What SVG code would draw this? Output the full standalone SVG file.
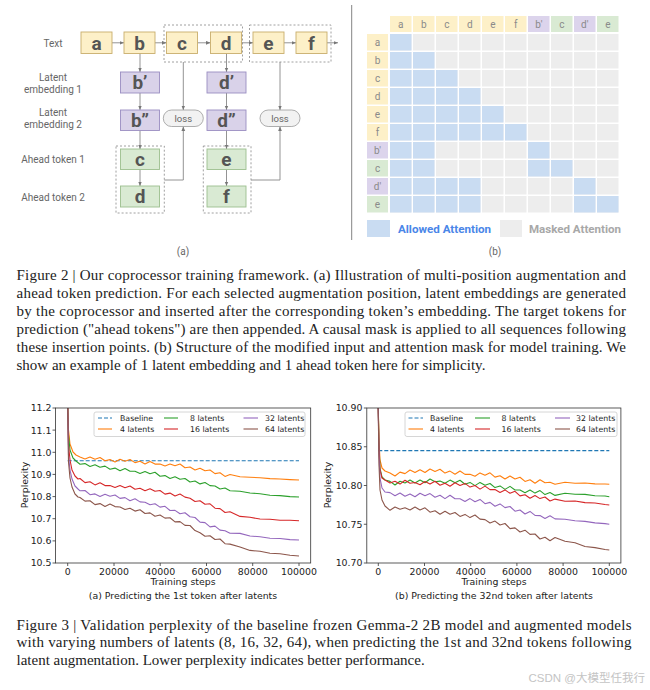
<svg xmlns="http://www.w3.org/2000/svg" width="650" height="690" viewBox="0 0 650 690">
<defs>
<style>
.lbl{font-family:Roboto,"Liberation Sans",sans-serif;font-size:10px;fill:#666;text-anchor:middle}
.tok{font-family:Roboto,"Liberation Sans",sans-serif;font-size:19px;font-weight:bold;fill:#555;text-anchor:middle}
.yel{fill:#fdf0c8;stroke:#c8ad6c;stroke-width:0.9}
.pur{fill:#d9d2e9;stroke:#9a8ec2;stroke-width:0.9}
.grn{fill:#d9ead3;stroke:#9cbf8f;stroke-width:0.9}
.dash{fill:none;stroke:#888;stroke-width:0.8;stroke-dasharray:2,2}
.pill{fill:#f2f2f2;stroke:#999;stroke-width:0.8}
.loss{font-family:Roboto,"Liberation Sans",sans-serif;font-size:9.5px;fill:#666;text-anchor:middle}
.con{fill:none;stroke:#888;stroke-width:0.9;marker-end:url(#ah)}
.gl{font-family:Roboto,"Liberation Sans",sans-serif;font-size:10px;fill:#8a8a8a;text-anchor:middle}
.hy{fill:#fdf0c8}.hp{fill:#dcd4ec}.hg{fill:#d9ead3}
.blue{fill:url(#bp)}
.cap{font-family:"Liberation Serif",serif;font-size:15px;fill:#222}
.tk{font-family:"DejaVu Sans",sans-serif;font-size:9.4px;fill:#222}
.lg{font-family:"DejaVu Sans",sans-serif;font-size:7.8px;fill:#222}
.fr{fill:none;stroke:#333;stroke-width:0.8}
.tick{stroke:#333;stroke-width:0.8}
.c{fill:none;stroke-width:1.1;stroke-linejoin:round}
.c0{stroke:#1f77b4;stroke-dasharray:4,2}
.c1{stroke:#ff7f0e}.c2{stroke:#2ca02c}.c3{stroke:#d62728}.c4{stroke:#9467bd}.c5{stroke:#8c564b}
</style>
<marker id="ah" viewBox="0 0 6 6" refX="6" refY="3" markerWidth="4.5" markerHeight="4.5" orient="auto" markerUnits="userSpaceOnUse"><path d="M0,0.5 L6,3 L0,5.5 Z" fill="#777"/></marker>
<pattern id="gp" patternUnits="userSpaceOnUse" x="390" y="34" width="23" height="18"><rect x="0" y="0" width="21.5" height="16.5" fill="#ededed"/></pattern>
<pattern id="bp" patternUnits="userSpaceOnUse" x="390" y="34" width="23" height="18"><rect x="0" y="0" width="21.5" height="16.5" fill="#c9dcf2"/></pattern>
<clipPath id="clL"><rect x="55.5" y="408" width="255.2" height="155"/></clipPath>
<clipPath id="clR"><rect x="366.8" y="408" width="254.1" height="155"/></clipPath>
</defs>
<rect width="650" height="690" fill="#fff"/>

<!-- (a) diagram labels -->
<g id="row-labels">
<text class="lbl" x="53" y="46.5">Text</text>
<text class="lbl" x="53" y="80.5">Latent</text>
<text class="lbl" x="53" y="92.5">embedding 1</text>
<text class="lbl" x="53" y="115.5">Latent</text>
<text class="lbl" x="53" y="127.5">embedding 2</text>
<text class="lbl" x="53" y="162.5">Ahead token 1</text>
<text class="lbl" x="53" y="200.5">Ahead token 2</text>
<text class="lbl" x="183" y="254.5">(a)</text>
</g>

<g id="connectors">
<path class="con" d="M112,42.8 H124"/>
<path class="con" d="M155,42.8 H166.5"/>
<path class="con" d="M197.5,42.8 H210.5"/>
<path class="con" d="M241.5,42.8 H253"/>
<path class="con" d="M284,42.8 H296"/>
<path class="con" d="M327,42.8 H338"/>
<path class="con" d="M140,53.5 V72"/>
<path class="con" d="M140,93 V110"/>
<path class="con" d="M140,130.5 V149"/>
<path class="con" d="M140,169.5 V186"/>
<path class="con" d="M226.5,53.5 V72"/>
<path class="con" d="M226.5,93 V110"/>
<path class="con" d="M226.5,130.5 V149"/>
<path class="con" d="M226.5,169.5 V186"/>
<path class="con" d="M183.3,62 V110"/>
<path class="con" d="M164.3,180 H183.3 V126.5"/>
<path class="con" d="M280,62 V110"/>
<path class="con" d="M251,180 H280 V126.5"/>
</g>

<g id="group-cd"><rect class="dash" x="164" y="25" width="78.5" height="37"/></g>
<g id="group-ef"><rect class="dash" x="249.5" y="25" width="81.5" height="37"/></g>
<g id="group-ahead1"><rect class="dash" x="116" y="146" width="48.3" height="67"/></g>
<g id="group-ahead2"><rect class="dash" x="203.3" y="146" width="47.7" height="67"/></g>

<g id="tok-a"><rect class="yel" x="81" y="32" width="31" height="21.5"/><text class="tok" x="96.5" y="49.5">a</text></g>
<g id="tok-b"><rect class="yel" x="124" y="32" width="31" height="21.5"/><text class="tok" x="139.5" y="49.5">b</text></g>
<g id="tok-c"><rect class="yel" x="166.5" y="32" width="31" height="21.5"/><text class="tok" x="182" y="49.5">c</text></g>
<g id="tok-d"><rect class="yel" x="210.5" y="32" width="31" height="21.5"/><text class="tok" x="226" y="49.5">d</text></g>
<g id="tok-e"><rect class="yel" x="253" y="32" width="31" height="21.5"/><text class="tok" x="268.5" y="49.5">e</text></g>
<g id="tok-f"><rect class="yel" x="296" y="32" width="31" height="21.5"/><text class="tok" x="311.5" y="49.5">f</text></g>

<g id="lat-b1"><rect class="pur" x="120.5" y="72" width="39" height="21"/><text class="tok" x="140" y="89">b’</text></g>
<g id="lat-d1"><rect class="pur" x="207" y="72" width="39" height="21"/><text class="tok" x="226.5" y="89">d’</text></g>
<g id="lat-b2"><rect class="pur" x="120.5" y="110" width="39" height="20.5"/><text class="tok" x="140" y="126.5">b”</text></g>
<g id="lat-d2"><rect class="pur" x="207" y="110" width="39" height="20.5"/><text class="tok" x="226.5" y="126.5">d”</text></g>
<g id="loss1"><rect class="pill" x="163.3" y="110" width="40" height="16.5" rx="8.2"/><text class="loss" x="183.3" y="121.5">loss</text></g>
<g id="loss2"><rect class="pill" x="260" y="110" width="40" height="16.5" rx="8.2"/><text class="loss" x="280" y="121.5">loss</text></g>
<g id="ahead-c"><rect class="grn" x="120.5" y="149" width="39" height="20.5"/><text class="tok" x="140" y="165.8">c</text></g>
<g id="ahead-d"><rect class="grn" x="120.5" y="186" width="39" height="21"/><text class="tok" x="140" y="203">d</text></g>
<g id="ahead-e"><rect class="grn" x="207" y="149" width="39" height="20.5"/><text class="tok" x="226.5" y="165.8">e</text></g>
<g id="ahead-f"><rect class="grn" x="207" y="186" width="39" height="21"/><text class="tok" x="226.5" y="203">f</text></g>

<line x1="351.7" y1="5" x2="351.7" y2="240" stroke="#777" stroke-width="0.9"/>

<!-- (b) attention mask -->
<g id="mask-header">
<rect class="hy" x="390" y="16" width="21.5" height="16"/><rect class="hy" x="413" y="16" width="21.5" height="16"/><rect class="hy" x="436" y="16" width="21.5" height="16"/><rect class="hy" x="459" y="16" width="21.5" height="16"/><rect class="hy" x="482" y="16" width="21.5" height="16"/><rect class="hy" x="505" y="16" width="21.5" height="16"/><rect class="hp" x="528" y="16" width="21.5" height="16"/><rect class="hg" x="551" y="16" width="21.5" height="16"/><rect class="hp" x="574" y="16" width="21.5" height="16"/><rect class="hg" x="597" y="16" width="21.5" height="16"/>
<text class="gl" x="400.8" y="27.5">a</text><text class="gl" x="423.8" y="27.5">b</text><text class="gl" x="446.8" y="27.5">c</text><text class="gl" x="469.8" y="27.5">d</text><text class="gl" x="492.8" y="27.5">e</text><text class="gl" x="515.8" y="27.5">f</text><text class="gl" x="538.8" y="27.5">b'</text><text class="gl" x="561.8" y="27.5">c</text><text class="gl" x="584.8" y="27.5">d'</text><text class="gl" x="607.8" y="27.5">e</text>
</g>
<g id="mask-rows">
<rect class="hy" x="367" y="34" width="21" height="16.5"/><rect class="hy" x="367" y="52" width="21" height="16.5"/><rect class="hy" x="367" y="70" width="21" height="16.5"/><rect class="hy" x="367" y="88" width="21" height="16.5"/><rect class="hy" x="367" y="106" width="21" height="16.5"/><rect class="hy" x="367" y="124" width="21" height="16.5"/><rect class="hp" x="367" y="142" width="21" height="16.5"/><rect class="hg" x="367" y="160" width="21" height="16.5"/><rect class="hp" x="367" y="178" width="21" height="16.5"/><rect class="hg" x="367" y="196" width="21" height="16.5"/>
<text class="gl" x="377.5" y="45.8">a</text><text class="gl" x="377.5" y="63.8">b</text><text class="gl" x="377.5" y="81.8">c</text><text class="gl" x="377.5" y="99.8">d</text><text class="gl" x="377.5" y="117.8">e</text><text class="gl" x="377.5" y="135.8">f</text><text class="gl" x="377.5" y="153.8">b'</text><text class="gl" x="377.5" y="171.8">c</text><text class="gl" x="377.5" y="189.8">d'</text><text class="gl" x="377.5" y="207.8">e</text>
</g>
<g id="mask-cells">
<rect x="390" y="34" width="230" height="180" fill="url(#gp)"/>
<rect class="blue" x="390" y="34" width="23" height="18"/>
<rect class="blue" x="390" y="52" width="46" height="18"/>
<rect class="blue" x="390" y="70" width="69" height="18"/>
<rect class="blue" x="390" y="88" width="92" height="18"/>
<rect class="blue" x="390" y="106" width="115" height="18"/>
<rect class="blue" x="390" y="124" width="138" height="18"/>
<rect class="blue" x="390" y="142" width="46" height="18"/><rect class="blue" x="528" y="142" width="23" height="18"/>
<rect class="blue" x="390" y="160" width="46" height="18"/><rect class="blue" x="528" y="160" width="46" height="18"/>
<rect class="blue" x="390" y="178" width="92" height="18"/><rect class="blue" x="574" y="178" width="23" height="18"/>
<rect class="blue" x="390" y="196" width="92" height="18"/><rect class="blue" x="574" y="196" width="46" height="18"/>
</g>
<g id="mask-legend">
<rect x="367" y="220" width="23" height="17" fill="#c9dcf2"/>
<text x="398" y="232.5" font-family="Roboto,'Liberation Sans',sans-serif" font-size="10.5" font-weight="bold" fill="#4a86e8" textLength="93" lengthAdjust="spacingAndGlyphs">Allowed Attention</text>
<rect x="500" y="220" width="22" height="17" fill="#ededed"/>
<text x="529" y="232.5" font-family="Roboto,'Liberation Sans',sans-serif" font-size="10.5" font-weight="bold" fill="#a8a8a8" textLength="92" lengthAdjust="spacingAndGlyphs">Masked Attention</text>
<text class="lbl" x="495" y="254.5">(b)</text>
</g>

<!-- Figure 2 caption -->
<g id="caption2" class="cap">
<text x="16.5" y="279.5" textLength="609.5" lengthAdjust="spacing">Figure 2 | Our coprocessor training framework. (a) Illustration of multi-position augmentation and</text>
<text x="16.5" y="297.5" textLength="609.5" lengthAdjust="spacing">ahead token prediction. For each selected augmentation position, latent embeddings are generated</text>
<text x="16.5" y="315.5" textLength="609.5" lengthAdjust="spacing">by the coprocessor and inserted after the corresponding token’s embedding. The target tokens for</text>
<text x="16.5" y="333.5" textLength="609.5" lengthAdjust="spacing">prediction ("ahead tokens") are then appended. A causal mask is applied to all sequences following</text>
<text x="16.5" y="351.5" textLength="609.5" lengthAdjust="spacing">these insertion points. (b) Structure of the modified input and attention mask for model training. We</text>
<text x="16.5" y="369.5">show an example of 1 latent embedding and 1 ahead token here for simplicity.</text>
</g>

<!-- Left plot -->
<g id="plot-left">
<g clip-path="url(#clL)">
<path class="c c0" d="M67.7,460.7 H299"/>
<path class="c c1" d="M67.5,395 L68.5,430 70,444 73,452 76,455 80,457 85,459 90,457 95,459.2 100,457.5 105,460.7 110,459.6 115,462 120,459.2 125,461.3 130,459.5 135,462.6 140,461.3 145,463.9 150,461.5 155,464.1 160,464 165,466 170,464 175,465.8 180,464 185,467.7 190,467 195,470 200,468.2 205,470.8 210,470 215,473.6 220,472.8 225,476.4 230,474.5 240,476.8 250,477.2 260,477.8 270,478.6 280,479 290,479.6 299,480"/>
<path class="c c2" d="M67.5,395 L68.5,435 70,450 73,458 76,461 80,464.2 85,463.6 90,466.5 95,464.7 100,467.3 105,466.1 110,469.3 115,468.1 120,470.8 125,468.5 130,471.3 135,471.2 140,473.4 145,471.5 150,473.8 155,472.3 160,476.2 165,475.6 170,478.5 175,476.7 180,479.3 185,478.5 190,482 195,481 200,483.9 205,482.5 210,485.6 215,486 220,489 225,488 230,490.8 240,491.2 250,493 260,493.7 270,495.3 280,495.6 290,496.6 299,497"/>
<path class="c c3" d="M67.5,395 L68.5,445 70,460 72,470 75,476 78,479 80,478.5 85,482.6 90,481.8 95,484.9 100,482.8 105,485.6 110,485.5 115,487.5 120,485.5 125,487.8 130,486 135,489.2 140,488.3 145,490.8 150,488.7 155,491.3 160,490.5 165,494.1 170,493.1 175,496 180,494 185,497.1 190,498.2 195,501.5 200,500.7 205,504.3 210,503.8 215,508.2 220,508.6 225,512.5 230,511.7 240,516.4 250,517.3 260,519 270,519.3 280,520.2 290,520.3 299,520.7"/>
<path class="c c4" d="M67.5,395 L68.5,455 70,470 72,479 75,486 78,489 80,490.8 85,490.5 90,494.7 95,493.9 100,496.5 105,494.2 110,496.3 115,495 120,498.4 125,497.6 130,500.7 135,498.8 140,501.9 145,502.3 150,504.8 155,503.8 160,507.1 165,506.3 170,510.5 175,510.4 180,513.8 185,512.7 190,516.8 195,517.5 200,522.1 205,522.6 210,526.9 215,526.1 220,530.1 225,530.8 230,533.3 240,533.4 250,536 260,536.8 270,538.3 280,538.5 290,539.6 299,540"/>
<path class="c c5" d="M67.5,395 L68.5,462 70,478 72,487 75,494 78,497 80,497.5 85,501.1 90,500.8 95,504.6 100,503.6 105,506.4 110,504 115,506.6 120,507 125,509.5 130,508.2 135,511.1 140,509.8 145,513.5 150,512.9 155,516.3 160,515 165,518.1 170,517.8 175,521.9 180,521.6 185,525.4 190,525.5 195,530.6 200,532.7 205,536.2 210,535.7 215,539.5 220,539 225,543.7 230,544.1 240,547 250,550.4 260,551.3 270,553.3 280,553.8 290,555.2 299,556"/>
</g>
<rect class="fr" x="55.5" y="408" width="255.2" height="155"/>
<path class="tick" d="M52.5,408H55.5M52.5,430.1H55.5M52.5,452.3H55.5M52.5,474.4H55.5M52.5,496.6H55.5M52.5,518.7H55.5M52.5,540.9H55.5M52.5,563H55.5"/>
<path class="tick" d="M67.7,563V566M114,563V566M160.2,563V566M206.5,563V566M252.7,563V566M299,563V566"/>
<g class="tk" text-anchor="end">
<text x="51.5" y="411.4">11.2</text><text x="51.5" y="433.5">11.1</text><text x="51.5" y="455.7">11.0</text><text x="51.5" y="477.8">10.9</text><text x="51.5" y="500">10.8</text><text x="51.5" y="522.1">10.7</text><text x="51.5" y="544.3">10.6</text><text x="51.5" y="566.4">10.5</text>
</g>
<g class="tk" text-anchor="middle">
<text x="67.7" y="574.8">0</text><text x="114" y="574.8">20000</text><text x="160.2" y="574.8">40000</text><text x="206.5" y="574.8">60000</text><text x="252.7" y="574.8">80000</text><text x="299" y="574.8">100000</text>
<text x="183" y="584.5">Training steps</text>
<text x="183" y="598.5">(a) Predicting the 1st token after latents</text>
<text transform="translate(27.5,485) rotate(-90)">Perplexity</text>
</g>
<g id="legend-left">
<rect x="94" y="412" width="211" height="24.5" rx="2" fill="#fff" fill-opacity="0.8" stroke="#ccc" stroke-width="0.8"/>
<path class="c c0" d="M98,418H112"/><path class="c c1" d="M98,429H112"/>
<path class="c c2" d="M164,418H178"/><path class="c c3" d="M164,429H178"/>
<path class="c c4" d="M243.5,418H258"/><path class="c c5" d="M243.5,429H258"/>
<g class="lg"><text x="120" y="420.8">Baseline</text><text x="120" y="431.8">4 latents</text><text x="190" y="420.8">8 latents</text><text x="190" y="431.8">16 latents</text><text x="265" y="420.8">32 latents</text><text x="265" y="431.8">64 latents</text></g>
</g>
</g>

<!-- Right plot -->
<g id="plot-right">
<g clip-path="url(#clR)">
<path class="c c0" d="M378.3,450.6 H609.3"/>
<path class="c c1" d="M378,395 L379,440 380,460 382,468 385,471 390,473 395,476 400,472.1 405,473.6 410,470 415,472.6 420,469.7 425,472.5 430,469 435,471.4 440,469.3 445,473.1 450,471.1 455,474.3 460,471 465,474.4 470,474.3 475,476.3 480,472.9 485,475.3 490,472.8 495,477.1 500,475.7 505,479 510,476 515,479 520,477.3 525,481.4 530,479.8 535,483.3 540,479.8 545,482.8 550,482.2 555,484.3 565,482.3 575,483.2 585,483 595,483.9 605,484 609.3,484.3"/>
<path class="c c2" d="M378,395 L379,445 380,468 382,477 385,480 390,481.4 395,485 400,481.2 405,482.9 410,480 415,482.9 420,480 425,482.8 430,479 435,481.8 440,481.1 445,483.3 450,480.1 455,482.8 460,480.2 465,484.2 470,482.4 475,485.6 480,482.4 485,485.2 490,483.5 495,487.6 500,485.9 505,489.4 510,486.4 515,490 520,490 525,492.7 530,490 535,493.1 540,490.6 545,494.6 550,492.6 555,495.4 565,493.3 575,494.2 585,494.4 595,495.7 605,496 609.3,496.7"/>
<path class="c c3" d="M378,395 L379,448 380,470 382,478 385,480 390,482.9 395,481.2 400,484.1 405,480.3 410,483.2 415,482.5 420,484.7 425,481.5 430,484.1 435,481.3 440,485.2 445,483.3 450,486.2 455,482.8 460,485.4 465,483.4 470,487.1 475,485.5 480,489.1 485,486.1 490,489.6 495,489.6 500,492.4 505,489.9 510,493.3 515,491.3 520,495.9 525,494.7 530,498.3 535,495.5 540,498.6 545,497 550,501 555,499.1 565,501.2 575,501 585,502.6 595,503 605,504.5 609.3,505"/>
<path class="c c4" d="M378,395 L379,455 380,478 382,488 385,492 390,492.6 395,495.8 400,493 405,496.2 410,493.9 415,496.8 420,493.2 425,495.7 430,493.6 435,497.3 440,495.3 445,498.6 450,495.3 455,498.8 460,498.7 465,501.4 470,498.6 475,501.7 480,499.4 485,503.7 490,502.4 495,506.3 500,503.9 505,507.6 510,506.5 515,511.2 520,510 525,514 530,511.4 535,515.4 540,515.6 545,518.4 550,515.8 555,518.9 565,519.3 575,520.8 585,521.4 595,522.9 605,523.6 609.3,524.3"/>
<path class="c c5" d="M378,395 L379,465 380,490 382,500 385,506 390,510.3 395,507 400,509.3 405,507.8 410,510 415,507.1 420,510 425,507.8 430,512.2 435,510.8 440,514.2 445,511.2 450,514.2 455,512.5 460,516.4 465,514.4 470,517.6 475,515 480,519.1 485,519.6 490,523 495,521.1 500,525 505,523.5 510,528.6 515,527.9 520,532 525,530.2 530,534.4 535,534 540,539 545,537.3 550,540.7 555,537.5 565,541.3 575,542.7 585,546.5 595,547.6 605,549.5 609.3,550"/>
</g>
<rect class="fr" x="366.8" y="408" width="254.1" height="155"/>
<path class="tick" d="M363.8,408H366.8M363.8,446.75H366.8M363.8,485.5H366.8M363.8,524.25H366.8M363.8,563H366.8"/>
<path class="tick" d="M378.3,563V566M424.5,563V566M470.7,563V566M516.9,563V566M563.1,563V566M609.3,563V566"/>
<g class="tk" text-anchor="end">
<text x="362.5" y="411.4">10.90</text><text x="362.5" y="450.2">10.85</text><text x="362.5" y="488.9">10.80</text><text x="362.5" y="527.7">10.75</text><text x="362.5" y="566.4">10.70</text>
</g>
<g class="tk" text-anchor="middle">
<text x="378.3" y="574.8">0</text><text x="424.5" y="574.8">20000</text><text x="470.7" y="574.8">40000</text><text x="516.9" y="574.8">60000</text><text x="563.1" y="574.8">80000</text><text x="609.3" y="574.8">100000</text>
<text x="494" y="584.5">Training steps</text>
<text x="494" y="598.5">(b) Predicting the 32nd token after latents</text>
<text transform="translate(331,485) rotate(-90)">Perplexity</text>
</g>
<g id="legend-right">
<rect x="405" y="412" width="212" height="24.5" rx="2" fill="#fff" fill-opacity="0.8" stroke="#ccc" stroke-width="0.8"/>
<path class="c c0" d="M408.5,418H423"/><path class="c c1" d="M408.5,429H423"/>
<path class="c c2" d="M475,418H490"/><path class="c c3" d="M475,429H490"/>
<path class="c c4" d="M555,418H570"/><path class="c c5" d="M555,429H570"/>
<g class="lg"><text x="430" y="420.8">Baseline</text><text x="430" y="431.8">4 latents</text><text x="501.5" y="420.8">8 latents</text><text x="501.5" y="431.8">16 latents</text><text x="576" y="420.8">32 latents</text><text x="576" y="431.8">64 latents</text></g>
</g>
</g>

<!-- Figure 3 caption -->
<g id="caption3" class="cap">
<text x="16.5" y="629.5" textLength="615" lengthAdjust="spacing">Figure 3 | Validation perplexity of the baseline frozen Gemma-2 2B model and augmented models</text>
<text x="16.5" y="647.3" textLength="615" lengthAdjust="spacing">with varying numbers of latents (8, 16, 32, 64), when predicting the 1st and 32nd tokens following</text>
<text x="16.5" y="665">latent augmentation. Lower perplexity indicates better performance.</text>
</g>
<text x="645" y="682" text-anchor="end" font-family="'Liberation Sans','Noto Sans CJK SC',sans-serif" font-size="11.5" fill="#c4c4c4">CSDN @大模型任我行</text>
</svg>
